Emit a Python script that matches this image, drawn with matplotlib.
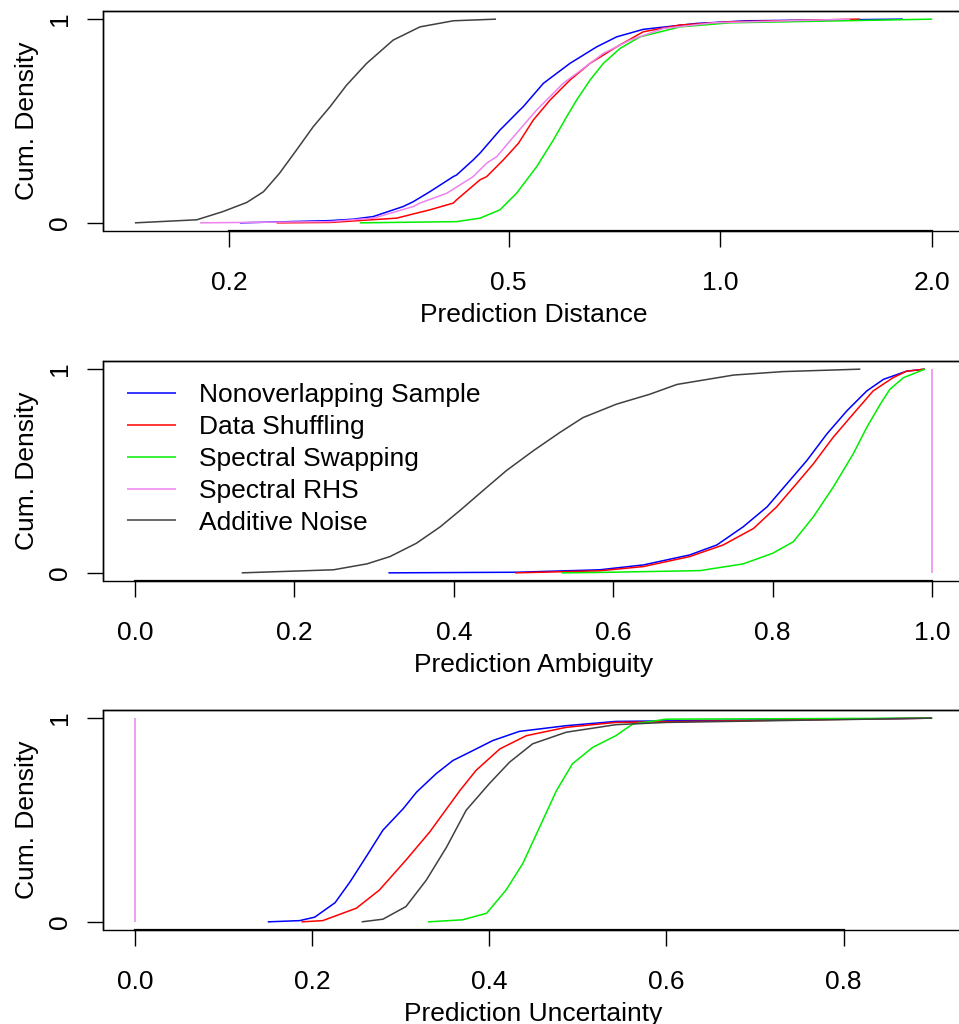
import matplotlib
matplotlib.use("Agg")
import matplotlib.pyplot as plt
from matplotlib.patches import Rectangle
import numpy as np

plt.rcParams['font.family'] = ['Liberation Sans', 'DejaVu Sans']

# ---------------- data ----------------
names = ["Nonoverlapping Sample", "Data Shuffling", "Spectral Swapping",
         "Spectral RHS", "Additive Noise"]
colors = ["#0000FF", "#FF0000", "#00EE00", "#EE82EE", "#404040"]

# Panel 1: Prediction Distance (log axis)
dist_blue_x = [0.2073, 0.2785, 0.3005, 0.3209, 0.3538, 0.3658, 0.3862, 0.417, 0.4215, 0.4451,
               0.455, 0.4859, 0.4912, 0.5185, 0.5242, 0.5601, 0.611, 0.6668, 0.7118, 0.7768,
               0.9254, 1.09, 1.818]
dist_blue_y = [0.0, 0.011, 0.018, 0.031, 0.08, 0.104, 0.153, 0.227, 0.235, 0.309,
               0.342, 0.456, 0.472, 0.554, 0.570, 0.685, 0.783, 0.864, 0.913, 0.950,
               0.979, 0.992, 1.0]
dist_red_x = [0.2338, 0.2785, 0.3462, 0.3862, 0.417, 0.4215, 0.455, 0.4651, 0.4912, 0.516,
              0.5419, 0.5725, 0.611, 0.6525, 0.7118, 0.7768, 0.876, 1.032, 1.579]
dist_red_y = [0.0, 0.002, 0.023, 0.064, 0.097, 0.113, 0.211, 0.227, 0.309, 0.39,
              0.505, 0.603, 0.701, 0.783, 0.864, 0.938, 0.971, 0.987, 1.0]
dist_green_x = [0.3071, 0.4215, 0.455, 0.4859, 0.5129, 0.5479, 0.5787, 0.6044, 0.6245, 0.6525,
                0.6816, 0.7196, 0.7683, 0.876, 1.032, 2.0]
dist_green_y = [0.0, 0.006, 0.023, 0.064, 0.145, 0.276, 0.407, 0.521, 0.603, 0.701,
                0.783, 0.856, 0.913, 0.962, 0.982, 1.0]
dist_pink_x = [0.1819, 0.2785, 0.3209, 0.3658, 0.3738, 0.408, 0.4451, 0.4651, 0.4807, 0.5129,
               0.5479, 0.5976, 0.6383, 0.6816, 0.7437, 0.8294, 0.977, 1.529]
dist_pink_y = [0.0, 0.006, 0.023, 0.08, 0.097, 0.145, 0.227, 0.293, 0.325, 0.44,
               0.554, 0.685, 0.758, 0.832, 0.897, 0.954, 0.982, 1.0]
dist_black_x = [0.147, 0.180, 0.196, 0.212, 0.224, 0.236, 0.2496, 0.2636, 0.2785, 0.294,
                0.314, 0.3424, 0.3738, 0.417, 0.4796]
dist_black_y = [0.0, 0.015, 0.055, 0.10, 0.153, 0.243, 0.358, 0.472, 0.570, 0.676,
                0.783, 0.897, 0.962, 0.992, 1.0]

# Panel 2: Prediction Ambiguity
amb_blue_x = [0.318, 0.479, 0.583, 0.638, 0.696, 0.730, 0.763, 0.793, 0.818, 0.843,
              0.868, 0.893, 0.918, 0.939, 0.968, 0.991]
amb_blue_y = [0.0, 0.003, 0.015, 0.039, 0.088, 0.137, 0.226, 0.324, 0.438, 0.552,
              0.682, 0.795, 0.893, 0.950, 0.990, 1.0]
amb_red_x = [0.477, 0.583, 0.638, 0.696, 0.738, 0.776, 0.805, 0.830, 0.851, 0.876,
             0.901, 0.926, 0.951, 0.968, 0.991]
amb_red_y = [0.0, 0.010, 0.031, 0.08, 0.137, 0.218, 0.324, 0.438, 0.535, 0.666,
             0.780, 0.893, 0.958, 0.990, 1.0]
amb_green_x = [0.535, 0.583, 0.709, 0.763, 0.800, 0.826, 0.851, 0.876, 0.901, 0.918,
               0.935, 0.947, 0.964, 0.991]
amb_green_y = [0.0, 0.002, 0.011, 0.044, 0.096, 0.153, 0.275, 0.421, 0.584, 0.714,
               0.828, 0.901, 0.958, 1.0]
amb_pink_x = [1.0, 1.0]
amb_pink_y = [0.0, 1.0]
amb_black_x = [0.134, 0.249, 0.291, 0.320, 0.353, 0.383, 0.408, 0.437, 0.466, 0.500,
               0.533, 0.562, 0.604, 0.646, 0.680, 0.751, 0.813, 0.910]
amb_black_y = [0.0, 0.015, 0.044, 0.08, 0.145, 0.226, 0.307, 0.405, 0.502, 0.60,
               0.689, 0.762, 0.828, 0.877, 0.925, 0.971, 0.988, 1.0]

# Panel 3: Prediction Uncertainty
unc_blue_x = [0.150, 0.186, 0.203, 0.226, 0.243, 0.261, 0.280, 0.303, 0.318, 0.340,
              0.359, 0.378, 0.404, 0.434, 0.487, 0.543, 0.9]
unc_blue_y = [0.0, 0.006, 0.023, 0.094, 0.197, 0.319, 0.45, 0.556, 0.637, 0.727,
              0.792, 0.833, 0.890, 0.935, 0.963, 0.984, 1.0]
unc_red_x = [0.188, 0.212, 0.250, 0.276, 0.306, 0.333, 0.348, 0.367, 0.385, 0.412,
             0.442, 0.487, 0.543, 0.9]
unc_red_y = [0.0, 0.006, 0.067, 0.156, 0.303, 0.442, 0.532, 0.645, 0.743, 0.849,
             0.914, 0.955, 0.979, 1.0]
unc_green_x = [0.331, 0.370, 0.397, 0.419, 0.438, 0.457, 0.476, 0.494, 0.517, 0.543,
               0.562, 0.600, 0.9]
unc_green_y = [0.0, 0.01, 0.042, 0.156, 0.287, 0.466, 0.645, 0.776, 0.857, 0.914,
               0.971, 0.995, 1.0]
unc_pink_x = [0.0, 0.0]
unc_pink_y = [0.0, 1.0]
unc_black_x = [0.256, 0.280, 0.306, 0.329, 0.352, 0.374, 0.400, 0.423, 0.449, 0.487,
               0.543, 0.600, 0.9]
unc_black_y = [0.0, 0.013, 0.075, 0.205, 0.368, 0.548, 0.678, 0.784, 0.874, 0.931,
               0.968, 0.979, 1.0]

dist_range = [0.147, 2.0]
amb_range = [0.0, 1.0]
unc_range = [0.0, 0.9]
dist_ticks = [0.2, 0.5, 1.0, 2.0]
dist_ticklabels = ["0.2", "0.5", "1.0", "2.0"]
amb_ticks = [0.0, 0.2, 0.4, 0.6, 0.8, 1.0]
amb_ticklabels = ["0.0", "0.2", "0.4", "0.6", "0.8", "1.0"]
unc_ticks = [0.0, 0.2, 0.4, 0.6, 0.8]
unc_ticklabels = ["0.0", "0.2", "0.4", "0.6", "0.8"]

panels = [
    dict(xlabel="Prediction Distance", log=True, rng=dist_range, ticks=dist_ticks, labels=dist_ticklabels,
         series=[(dist_blue_x, dist_blue_y), (dist_red_x, dist_red_y), (dist_green_x, dist_green_y),
                 (dist_pink_x, dist_pink_y), (dist_black_x, dist_black_y)]),
    dict(xlabel="Prediction Ambiguity", log=False, rng=amb_range, ticks=amb_ticks, labels=amb_ticklabels,
         series=[(amb_blue_x, amb_blue_y), (amb_red_x, amb_red_y), (amb_green_x, amb_green_y),
                 (amb_pink_x, amb_pink_y), (amb_black_x, amb_black_y)]),
    dict(xlabel="Prediction Uncertainty", log=False, rng=unc_range, ticks=unc_ticks, labels=unc_ticklabels,
         series=[(unc_blue_x, unc_blue_y), (unc_red_x, unc_red_y), (unc_green_x, unc_green_y),
                 (unc_pink_x, unc_pink_y), (unc_black_x, unc_black_y)]),
]

# ---------------- figure ----------------
W, H = 959, 1024
fig = plt.figure(figsize=(W / 100, H / 100), dpi=100)
FS = 19

tops = [11, 361, 710]
left_px, right_px = 103, 964
h_px = 220

for i, p in enumerate(panels):
    top = tops[i]
    ax = fig.add_axes([left_px / W, 1 - (top + h_px) / H, (right_px - left_px) / W, h_px / H])
    order = [4, 0, 1, 2, 3] if i == 0 else [0, 1, 2, 3, 4]
    for k in order:
        xs, ys = p["series"][k]
        ax.plot(xs, ys, color=colors[k], lw=1.1, label=names[k], solid_capstyle='butt')
    lo, hi = p["rng"]
    if p["log"]:
        ax.set_xscale("log")
        llo, lhi = np.log10(lo), np.log10(hi)
        d = 0.04 * (lhi - llo)
        ax.set_xlim(10 ** (llo - d), 10 ** (lhi + d))
    else:
        d = 0.04 * (hi - lo)
        ax.set_xlim(lo - d, hi + d)
    ax.set_ylim(-0.04, 1.04)
    ax.minorticks_off()
    ax.set_xticks(p["ticks"])
    ax.set_xticklabels(p["labels"])
    ax.set_yticks([0, 1])
    ax.set_yticklabels(["0", "1"])
    ax.tick_params(axis='both', direction='out', length=11.5, width=1.0, labelsize=FS,
                   colors='black')
    ax.tick_params(axis='x', pad=17)
    ax.tick_params(axis='y', pad=11, labelrotation=90)
    for lab in ax.get_yticklabels():
        lab.set_va('center')
    for s in ax.spines.values():
        s.set_linewidth(1.0)
    ax.spines['bottom'].set_bounds(p["ticks"][0], p["ticks"][-1])
    ax.spines['bottom'].set_linewidth(1.6)
    ax.add_patch(Rectangle((0, 0), 1, 1, transform=ax.transAxes, fill=False,
                           lw=1.0, ec='black', clip_on=False, zorder=5))
    ax.set_xlabel(p["xlabel"], fontsize=FS, labelpad=6)
    ax.set_ylabel("Cum. Density", fontsize=FS, labelpad=6)
    if i == 1:
        h, l = ax.get_legend_handles_labels()
        ax.legend(h, l, loc='upper left', bbox_to_anchor=(127 / W, 1 - 383 / H),
                  bbox_transform=fig.transFigure, frameon=False, fontsize=FS,
                  handlelength=1.86, handletextpad=0.87, labelspacing=0.30,
                  borderpad=0, borderaxespad=0)

fig.savefig("out.png", dpi=100)
